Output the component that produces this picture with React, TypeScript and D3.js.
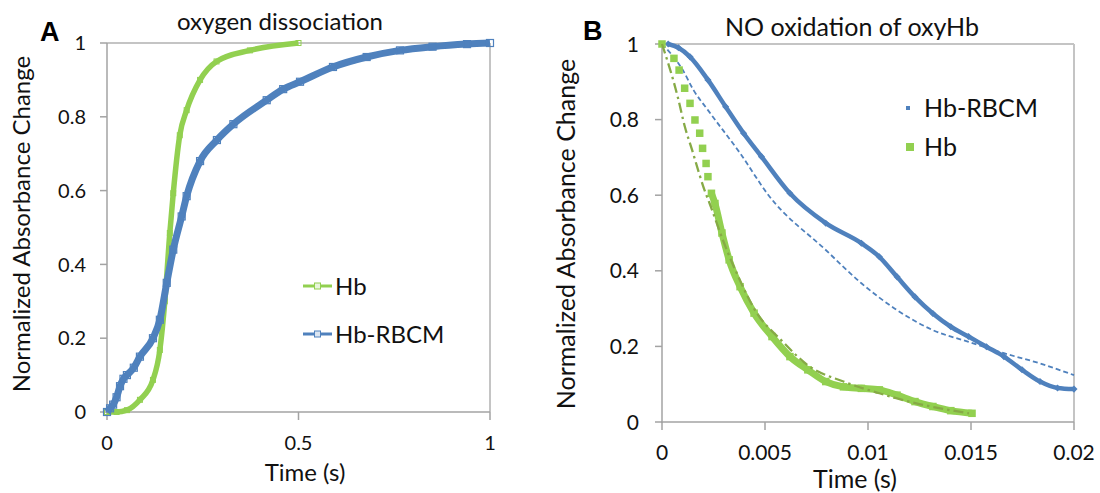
import React from "react";
import * as d3 from "d3";

// ---------- Panel A: oxygen dissociation ----------
const aHbTime = [0, 0.025, 0.052, 0.086, 0.12, 0.138, 0.151, 0.164, 0.173, 0.19, 0.208, 0.243, 0.286, 0.373, 0.5];
const aHbValue = [0, 0, 0.005, 0.033, 0.087, 0.168, 0.3, 0.485, 0.593, 0.75, 0.818, 0.9, 0.95, 0.98, 1.0];

const aRbcmTime = [0, 0.008, 0.016, 0.025, 0.034, 0.043, 0.052, 0.07, 0.086, 0.12, 0.138, 0.156, 0.173, 0.195, 0.208, 0.243, 0.287, 0.33, 0.417, 0.46, 0.504, 0.59, 0.678, 0.765, 0.85, 0.94, 1.0];
const aRbcmValue = [0, 0.01, 0.02, 0.04, 0.07, 0.09, 0.1, 0.12, 0.15, 0.2, 0.25, 0.35, 0.44, 0.53, 0.585, 0.68, 0.737, 0.78, 0.845, 0.875, 0.895, 0.935, 0.962, 0.98, 0.99, 0.997, 1.0];

const aXTicks = [0, 0.5, 1];
const aXTickLabels = ["0", "0.5", "1"];
const aYTicks = [0, 0.2, 0.4, 0.6, 0.8, 1];
const aYTickLabels = ["0", "0.2", "0.4", "0.6", "0.8", "1"];

// ---------- Panel B: NO oxidation of oxyHb ----------
const bRbcmTime = [0.0003, 0.0008, 0.00136, 0.00223, 0.00309, 0.00396, 0.00483, 0.00621, 0.00795, 0.00968, 0.01055, 0.01141, 0.01228, 0.01315, 0.01402, 0.01488, 0.01575, 0.0166, 0.01748, 0.01835, 0.0192, 0.02];
const bRbcmValue = [1.0, 0.99, 0.966, 0.905, 0.834, 0.764, 0.702, 0.605, 0.526, 0.473, 0.437, 0.384, 0.331, 0.287, 0.252, 0.226, 0.199, 0.173, 0.138, 0.107, 0.09, 0.087];

const bRbcmFitTime = [0, 0.00101, 0.00153, 0.00223, 0.00379, 0.00517, 0.00795, 0.00968, 0.01141, 0.01315, 0.01488, 0.0166, 0.01835, 0.02];
const bRbcmFitValue = [1.0, 0.931, 0.878, 0.825, 0.711, 0.6, 0.455, 0.367, 0.296, 0.243, 0.212, 0.182, 0.155, 0.124];

const bHbTime = [0, 0.00058, 0.00083, 0.0011, 0.00136, 0.0016, 0.00183, 0.00197, 0.00214, 0.00223, 0.0024, 0.00257, 0.00291, 0.00326, 0.00379, 0.00447, 0.00534, 0.00621, 0.00708, 0.00795, 0.00881, 0.00968, 0.01055, 0.01141, 0.01228, 0.01315, 0.01402, 0.01505];
const bHbValue = [1.0, 0.962, 0.931, 0.883, 0.843, 0.799, 0.764, 0.724, 0.684, 0.649, 0.605, 0.578, 0.5, 0.429, 0.358, 0.288, 0.226, 0.173, 0.138, 0.107, 0.093, 0.089, 0.085, 0.071, 0.054, 0.041, 0.03, 0.023];

const bHbFitTime = [0, 0.00076, 0.00111, 0.00146, 0.0018, 0.00206, 0.0023, 0.003, 0.0037, 0.00447, 0.00587, 0.00708, 0.00881, 0.01055, 0.0123, 0.0149];
const bHbFitValue = [1.0, 0.861, 0.781, 0.72, 0.658, 0.614, 0.58, 0.475, 0.385, 0.3, 0.212, 0.15, 0.107, 0.076, 0.05, 0.023];

const bXTicks = [0, 0.005, 0.01, 0.015, 0.02];
const bXTickLabels = ["0", "0.005", "0.01", "0.015", "0.02"];
const bYTicks = [0, 0.2, 0.4, 0.6, 0.8, 1];
const bYTickLabels = ["0", "0.2", "0.4", "0.6", "0.8", "1"];

const seriesNames = ["Hb", "Hb-RBCM"];

const GREEN = "#92d050";
const BLUE = "#4f81bd";
const FIT_GREEN = "#86aa46";
const AXIS = "#a3a3a3";
const BORDER = "#c4c4c4";
const FONT = "Lato, 'Open Sans', sans-serif";

type Pt = [number, number];
const zip = (t: number[], v: number[]): Pt[] => t.map((d, i) => [d, v[i]]);

function Frame({ x, y, xTicks, xLabels, yTicks, yLabels, fs, xLabY, yLabX }: any) {
  const [x0, x1] = x.range();
  const [y0, y1] = y.range();
  return (
    <g>
      <line x1={x0} x2={x1} y1={y1} y2={y1} stroke={BORDER} strokeWidth={2} />
      <line x1={x1} x2={x1} y1={y1} y2={y0} stroke={BORDER} strokeWidth={2} />
      <line x1={x0} x2={x0} y1={y1} y2={y0 + 1} stroke={AXIS} strokeWidth={1.5} />
      <line x1={x0 - 1} x2={x1} y1={y0} y2={y0} stroke={AXIS} strokeWidth={1.5} />
      {yTicks.map((t: number, i: number) => (
        <g key={"y" + i}>
          <line x1={x0 - 7} x2={x0} y1={y(t)} y2={y(t)} stroke={AXIS} strokeWidth={1.5} />
          <text x={yLabX} y={y(t)} dy="0.36em" textAnchor="end" fontSize={fs} fontFamily={FONT} fill="#111">
            {yLabels[i]}
          </text>
        </g>
      ))}
      {xTicks.map((t: number, i: number) => (
        <g key={"x" + i}>
          <line x1={x(t)} x2={x(t)} y1={y0} y2={y0 + 8} stroke={AXIS} strokeWidth={1.5} />
          <text x={x(t)} y={xLabY} textAnchor="middle" fontSize={fs} fontFamily={FONT} fill="#111">
            {xLabels[i]}
          </text>
        </g>
      ))}
    </g>
  );
}

export default function App() {
  // Panel A scales
  const xA = d3.scaleLinear().domain([0, 1]).range([107, 490]);
  const yA = d3.scaleLinear().domain([0, 1]).range([412, 43]);
  // Panel B scales
  const xB = d3.scaleLinear().domain([0, 0.02]).range([662, 1074]);
  const yB = d3.scaleLinear().domain([0, 1]).range([422, 44]);

  const lineA = d3.line<Pt>().x((d) => xA(d[0])).y((d) => yA(d[1])).curve(d3.curveMonotoneX);
  const lineB = d3.line<Pt>().x((d) => xB(d[0])).y((d) => yB(d[1])).curve(d3.curveMonotoneX);

  const aHb = zip(aHbTime, aHbValue);
  const aRbcm = zip(aRbcmTime, aRbcmValue);
  const bRbcm = zip(bRbcmTime, bRbcmValue);
  const bRbcmFit = zip(bRbcmFitTime, bRbcmFitValue);
  const bHb = zip(bHbTime, bHbValue);
  const bHbFit = zip(bHbFitTime, bHbFitValue);
  const bHbBand = bHb.filter((d) => d[0] >= 0.0024);

  return (
    <svg width={1100} height={493} style={{ position: "absolute", left: 0, top: 0, display: "block", background: "#fff" }}>
      {/* ---------------- Panel A ---------------- */}
      <text x={40} y={41} fontSize={27} fontWeight="bold" fontFamily="'Liberation Sans', Arial, sans-serif">A</text>
      <text x={280} y={30} textAnchor="middle" fontSize={24} fontFamily={FONT} fill="#111">oxygen dissociation</text>
      <Frame x={xA} y={yA} xTicks={aXTicks} xLabels={aXTickLabels} yTicks={aYTicks} yLabels={aYTickLabels} fs={20} xLabY={450} yLabX={86} />
      <text x={305} y={481} textAnchor="middle" fontSize={24} fontFamily={FONT} fill="#111">Time (s)</text>
      <text transform="translate(30,224) rotate(-90)" textAnchor="middle" fontSize={24} fontFamily={FONT} fill="#111">
        Normalized Absorbance Change
      </text>

      <path d={lineA(aHb) || ""} fill="none" stroke={GREEN} strokeWidth={5.5} strokeLinejoin="round" />
      {aHb.map((d, i) => (
        <rect key={"ag" + i} x={xA(d[0]) - 2.5} y={yA(d[1]) - 2.5} width={5} height={5} fill="none" stroke={GREEN} strokeWidth={1} />
      ))}
      <path d={lineA(aRbcm) || ""} fill="none" stroke={BLUE} strokeWidth={7} strokeLinejoin="round" />
      {aRbcm.map((d, i) => (
        <rect key={"ab" + i} x={xA(d[0]) - 3.5} y={yA(d[1]) - 3.5} width={7} height={7} fill="none" stroke={BLUE} strokeWidth={1.2} />
      ))}

      {/* Legend A */}
      <line x1={303} x2={332} y1={286} y2={286} stroke={GREEN} strokeWidth={3} />
      <rect x={314.5} y={283} width={6} height={6} fill="#e9f5dc" stroke={GREEN} strokeWidth={1} />
      <text x={335} y={286} dy="0.36em" fontSize={24} fontFamily={FONT} fill="#111">{seriesNames[0]}</text>
      <line x1={303} x2={332} y1={334} y2={334} stroke={BLUE} strokeWidth={3} />
      <rect x={314.5} y={331} width={6} height={6} fill="#dbe5f1" stroke={BLUE} strokeWidth={1} />
      <text x={335} y={334} dy="0.36em" fontSize={24} fontFamily={FONT} fill="#111">{seriesNames[1]}</text>

      {/* ---------------- Panel B ---------------- */}
      <text x={583} y={40} fontSize={27} fontWeight="bold" fontFamily="'Liberation Sans', Arial, sans-serif">B</text>
      <text x={852} y={36} textAnchor="middle" fontSize={25} fontFamily={FONT} fill="#111">NO oxidation of oxyHb</text>
      <Frame x={xB} y={yB} xTicks={bXTicks} xLabels={bXTickLabels} yTicks={bYTicks} yLabels={bYTickLabels} fs={21} xLabY={460} yLabX={639} />
      <text x={855} y={488} textAnchor="middle" fontSize={25} fontFamily={FONT} fill="#111">Time (s)</text>
      <text transform="translate(575,234) rotate(-90)" textAnchor="middle" fontSize={25} fontFamily={FONT} fill="#111">
        Normalized Absorbance Change
      </text>

      {/* fits */}
      <path d={lineB(bRbcmFit) || ""} fill="none" stroke={BLUE} strokeWidth={1.8} strokeDasharray="5,3" />
      {/* Hb-RBCM data */}
      <path d={lineB(bRbcm) || ""} fill="none" stroke={BLUE} strokeWidth={4.5} strokeLinejoin="round" />
      {bRbcm.map((d, i) => (
        <rect key={"bb" + i} x={xB(d[0]) - 2.5} y={yB(d[1]) - 2.5} width={5} height={5} fill={BLUE} transform={`rotate(45 ${xB(d[0])} ${yB(d[1])})`} />
      ))}
      {/* Hb data */}
      <path d={lineB(bHbBand) || ""} fill="none" stroke={GREEN} strokeWidth={7} strokeLinejoin="round" />
      {bHb.map((d, i) => (
        <rect key={"bg" + i} x={xB(d[0]) - 3.75} y={yB(d[1]) - 3.75} width={7.5} height={7.5} fill={GREEN} />
      ))}
      <path d={lineB(bHbFit) || ""} fill="none" stroke={FIT_GREEN} strokeWidth={2.3} strokeDasharray="10,4,2.5,4" />

      {/* Legend B */}
      <rect x={906} y={106} width={4} height={4} fill={BLUE} />
      <text x={924} y={108} dy="0.36em" fontSize={25} fontFamily={FONT} fill="#111">{seriesNames[1]}</text>
      <rect x={906} y={143} width={8} height={8} fill={GREEN} />
      <text x={924} y={147} dy="0.36em" fontSize={25} fontFamily={FONT} fill="#111">{seriesNames[0]}</text>
    </svg>
  );
}
